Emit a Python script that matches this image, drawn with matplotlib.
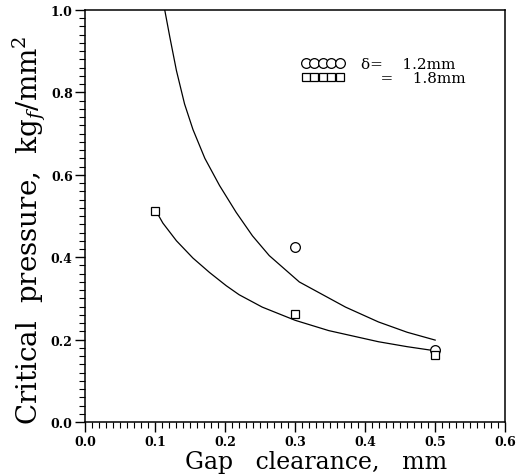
import numpy as np
import matplotlib
matplotlib.use('Agg')
import matplotlib.pyplot as plt
from matplotlib.ticker import MultipleLocator

plt.rcParams['font.family'] = 'DejaVu Serif'
plt.rcParams['mathtext.fontset'] = 'dejavuserif'

# measured points
gap_12 = [0.3, 0.5]
p_12 = [0.425, 0.175]
gap_18 = [0.1, 0.3, 0.5]
p_18 = [0.513, 0.263, 0.163]

# fitted curves
curve_x_12 = [0.1137, 0.121, 0.1304, 0.142, 0.154, 0.171, 0.192, 0.2157, 0.239, 0.263,
              0.306, 0.372, 0.419, 0.46, 0.5]
curve_y_12 = [1.0, 0.934, 0.853, 0.772, 0.71, 0.64, 0.574, 0.509, 0.452, 0.404,
              0.340, 0.279, 0.243, 0.218, 0.199]
curve_x_18 = [0.1, 0.111, 0.1304, 0.154, 0.1777, 0.2015, 0.22, 0.253, 0.3, 0.348,
              0.419, 0.46, 0.5]
curve_y_18 = [0.516, 0.483, 0.440, 0.398, 0.363, 0.331, 0.309, 0.279, 0.247, 0.222,
              0.195, 0.183, 0.173]

fig = plt.figure(figsize=(5.16, 4.77), dpi=100)
ax = fig.add_axes([0.165, 0.113, 0.814, 0.864])

ax.plot(curve_x_12, curve_y_12, color='black', linewidth=0.9)
ax.plot(curve_x_18, curve_y_18, color='black', linewidth=0.9)
ax.plot(gap_12, p_12, linestyle='none', marker='o', markersize=7, markerfacecolor='white',
        markeredgecolor='black', markeredgewidth=0.9, label='δ=    1.2mm')
ax.plot(gap_18, p_18, linestyle='none', marker='s', markersize=6, markerfacecolor='white',
        markeredgecolor='black', markeredgewidth=0.9, label='    =    1.8mm')

ax.set_xlim(0.0, 0.6)
ax.set_ylim(0.0, 1.0)
ax.xaxis.set_major_locator(MultipleLocator(0.1))
ax.xaxis.set_minor_locator(MultipleLocator(0.01))
ax.yaxis.set_major_locator(MultipleLocator(0.2))
ax.yaxis.set_minor_locator(MultipleLocator(0.02))
ax.xaxis.set_major_formatter(plt.FormatStrFormatter('%.1f'))
ax.yaxis.set_major_formatter(plt.FormatStrFormatter('%.1f'))
ax.tick_params(which='major', direction='out', length=7, width=1.0, labelsize=9, pad=2)
ax.tick_params(which='minor', direction='out', length=4, width=0.8)
for lab in ax.get_xticklabels() + ax.get_yticklabels():
    lab.set_fontweight('bold')
for s in ax.spines.values():
    s.set_linewidth(1.1)

ax.set_xlabel('Gap   clearance,   mm', fontsize=17)
ax.xaxis.set_label_coords(0.55, -0.068, transform=ax.transAxes)
ax.xaxis.label.set_va('top')
ax.set_ylabel(r'Critical  pressure,  kg$_f$/mm$^2$', fontsize=20)
ax.yaxis.set_label_coords(-0.088, 0.468, transform=ax.transAxes)

leg = ax.legend(loc='upper left', bbox_to_anchor=(0.515, 0.885), numpoints=5, frameon=False,
                handlelength=2.8, handletextpad=1.1, labelspacing=0.0, borderpad=0.0,
                borderaxespad=0.0, prop={'size': 11})

fig.savefig('out.png', dpi=100)
